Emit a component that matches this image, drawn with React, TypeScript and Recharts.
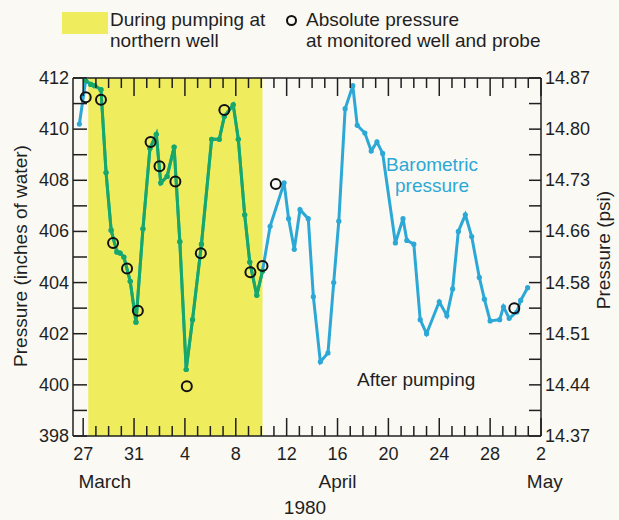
import React from 'react';
import {
  ComposedChart,
  Line,
  Scatter,
  XAxis,
  YAxis,
  ReferenceArea,
} from 'recharts';

// day 0 = 27 March 1980
const recordDays = [
  -0.3, 0.2, 0.6, 0.9, 1.4, 1.8, 2.2, 2.65, 2.9, 3.2, 3.7, 4.15, 4.7, 5.25, 5.75, 6.1, 6.6, 7.15,
  7.6, 8.1, 8.6, 9.3, 10.1, 10.7, 11.1, 11.8, 12.2, 12.7, 13.1, 13.65, 14.1, 14.7, 15.8, 16.15,
  16.6, 17.05, 17.7, 18.1, 18.65, 19.25, 19.7, 20.1, 20.6, 21.2, 21.55, 22.15, 22.65, 23.1, 23.55,
  24.55, 25.15, 25.45, 26.0, 26.5, 27.0, 28.0, 28.6, 29.05, 29.5, 30.05, 30.55, 31.15, 31.55, 32.0,
  32.75, 33.05, 33.5, 34.1, 34.4, 34.95,
];
const recordPressure = [
  410.2, 411.9, 411.75, 411.7, 411.55, 408.3, 406.05, 405.2, 405.15, 405.0, 404.05, 402.45, 406.1,
  409.25, 409.8, 407.9, 408.15, 409.3, 405.6, 400.6, 402.55, 405.5, 409.6, 409.6, 410.5, 410.95,
  409.6, 406.65, 404.8, 403.5, 404.45, 406.2, 407.9, 406.5, 405.3, 406.85, 406.5, 403.45, 400.9,
  401.25, 404.0, 406.4, 410.8, 411.7, 410.15, 409.85, 409.15, 409.5, 409.05, 405.55, 406.5, 405.65,
  405.5, 402.55, 402.0, 403.25, 402.7, 403.75, 406.0, 406.65, 405.8, 404.2, 403.35, 402.5, 402.55,
  403.05, 402.6, 402.85, 403.3, 403.8,
];

// absolute pressure at monitored well and probe
const probeDays = [0.2, 1.4, 2.35, 3.45, 4.3, 5.3, 6.0, 7.25, 8.15, 9.25, 11.1, 13.15, 14.1, 15.15, 33.9];
const probePressure = [
  411.25, 411.15, 405.55, 404.55, 402.9, 409.5, 408.55, 407.95, 399.95, 405.15, 410.75, 404.4,
  404.65, 407.85, 403.0,
];

// pumping at northern well (yellow band) and green part of the trace
const pumpingBand = [0.4, 14.1];
const greenSpan = [0.2, 14.1];

const xTicks = Array.from({ length: 37 }, (_, i) => i);
const xTickLabels = ['27', '31', '4', '8', '12', '16', '20', '24', '28', '2'];
const months = [
  { name: 'March', day: 1.7 },
  { name: 'April', day: 20 },
  { name: 'May', day: 36.3 },
];
const yTicks = Array.from({ length: 15 }, (_, i) => 398 + i);
const leftLabels = ['398', '400', '402', '404', '406', '408', '410', '412'];
const rightLabels = ['14.37', '14.44', '14.51', '14.58', '14.66', '14.73', '14.80', '14.87'];

const W = 619;
const H = 520;
const PLOT_LEFT = 73;
const PLOT_RIGHT = 541;
const PLOT_TOP = 78;
const PLOT_BOTTOM = 436;
const X_MIN = -0.8;
const X_MAX = 36;

const INK = '#1f1f1f';
const YELLOW = '#efed5e';
const GREEN = '#17a866';
const BLUE = '#2ca8d7';
const PAPER = '#fbf9f4';
const FONT = '"Liberation Sans", Arial, sans-serif';
const TICK_SIZE = 18;

const tableRows = recordDays.map((day, i) => ({
  day,
  pressure: recordPressure[i],
  pumping: day >= greenSpan[0] && day <= greenSpan[1] ? recordPressure[i] : null,
}));
const probeRows = probeDays.map((day, i) => ({ day, pressure: probePressure[i] }));

const BottomTick = (props: any) => {
  const { x, payload } = props;
  const d = payload.value as number;
  const major = d % 4 === 0;
  return (
    <g>
      <line x1={x} x2={x} y1={PLOT_BOTTOM} y2={PLOT_BOTTOM - (major ? 18 : 10)} stroke={INK} strokeWidth={1.5} />
      {major && (
        <text x={x} y={PLOT_BOTTOM + 24} textAnchor="middle" fill={INK} fontSize={TICK_SIZE} fontFamily={FONT}>
          {xTickLabels[d / 4]}
        </text>
      )}
    </g>
  );
};

const TopTick = (props: any) => {
  const { x, payload } = props;
  const major = (payload.value as number) % 4 === 0;
  return <line x1={x} x2={x} y1={PLOT_TOP} y2={PLOT_TOP + (major ? 18 : 10)} stroke={INK} strokeWidth={1.5} />;
};

const LeftTick = (props: any) => {
  const { y, payload } = props;
  const v = payload.value as number;
  return (
    <g>
      <line x1={PLOT_LEFT} x2={PLOT_LEFT + 14} y1={y} y2={y} stroke={INK} strokeWidth={1.5} />
      {v % 2 === 0 && (
        <text x={PLOT_LEFT - 4} y={y + 6} textAnchor="end" fill={INK} fontSize={TICK_SIZE} fontFamily={FONT}>
          {leftLabels[(v - 398) / 2]}
        </text>
      )}
    </g>
  );
};

const RightTick = (props: any) => {
  const { y, payload } = props;
  const v = payload.value as number;
  return (
    <g>
      <line x1={PLOT_RIGHT - 12} x2={PLOT_RIGHT} y1={y} y2={y} stroke={INK} strokeWidth={1.5} />
      {v % 2 === 0 && (
        <text x={PLOT_RIGHT + 4} y={y + 6} textAnchor="start" fill={INK} fontSize={TICK_SIZE} fontFamily={FONT}>
          {rightLabels[(v - 398) / 2]}
        </text>
      )}
    </g>
  );
};

const ProbeMark = (props: any) => {
  const { cx, cy } = props;
  return <circle cx={cx} cy={cy} r={5} fill="none" stroke="#111" strokeWidth={2} />;
};

const dayToX = (d: number) => PLOT_LEFT + ((d - X_MIN) / (X_MAX - X_MIN)) * (PLOT_RIGHT - PLOT_LEFT);

const txt: React.CSSProperties = {
  position: 'absolute',
  fontFamily: FONT,
  fontSize: 19,
  color: INK,
  lineHeight: '21px',
  whiteSpace: 'nowrap',
};

export default function App() {
  return (
    <div style={{ position: 'absolute', left: 0, top: 0, width: W, height: H, background: PAPER }}>
      <ComposedChart
        width={W}
        height={H}
        data={tableRows}
        margin={{ top: PLOT_TOP - 20, right: W - PLOT_RIGHT - 60, bottom: H - PLOT_BOTTOM - 30, left: PLOT_LEFT - 50 }}
      >
        <ReferenceArea
          x1={pumpingBand[0]}
          x2={pumpingBand[1]}
          y1={398}
          y2={412}
          fill={YELLOW}
          fillOpacity={1}
          stroke="none"
        />
        <XAxis
          dataKey="day"
          type="number"
          domain={[X_MIN, X_MAX]}
          allowDataOverflow
          ticks={xTicks}
          interval={0}
          height={30}
          tickLine={false}
          tick={<BottomTick />}
          axisLine={{ stroke: INK, strokeWidth: 1.5 }}
        />
        <XAxis
          xAxisId="top"
          orientation="top"
          dataKey="day"
          type="number"
          domain={[X_MIN, X_MAX]}
          allowDataOverflow
          ticks={xTicks}
          interval={0}
          height={20}
          tickLine={false}
          tick={<TopTick />}
          axisLine={{ stroke: INK, strokeWidth: 1.5 }}
        />
        <YAxis
          type="number"
          domain={[398, 412]}
          allowDataOverflow
          ticks={yTicks}
          interval={0}
          width={50}
          tickLine={false}
          tick={<LeftTick />}
          axisLine={{ stroke: INK, strokeWidth: 1.5 }}
        />
        <YAxis
          yAxisId="right"
          orientation="right"
          type="number"
          domain={[398, 412]}
          allowDataOverflow
          ticks={yTicks}
          interval={0}
          width={60}
          tickLine={false}
          tick={<RightTick />}
          axisLine={{ stroke: INK, strokeWidth: 1.5 }}
        />
        <Line
          dataKey="pressure"
          stroke={BLUE}
          strokeWidth={3}
          dot={{ r: 2.6, fill: BLUE, stroke: BLUE, strokeWidth: 0 }}
          isAnimationActive={false}
          type="linear"
        />
        <Line
          dataKey="pumping"
          stroke={GREEN}
          strokeWidth={3}
          dot={{ r: 2.6, fill: GREEN, stroke: GREEN, strokeWidth: 0 }}
          isAnimationActive={false}
          type="linear"
        />
        <Scatter data={probeRows} dataKey="pressure" shape={<ProbeMark />} isAnimationActive={false} />
      </ComposedChart>

      {/* legend */}
      <div style={{ position: 'absolute', left: 62, top: 12, width: 46, height: 22, background: YELLOW }} />
      <div style={{ ...txt, left: 110, top: 9 }}>During pumping at</div>
      <div style={{ ...txt, left: 110, top: 30 }}>northern well</div>
      <div
        style={{
          position: 'absolute',
          left: 286,
          top: 15,
          width: 7,
          height: 7,
          border: '2px solid #111',
          borderRadius: '50%',
        }}
      />
      <div style={{ ...txt, left: 306, top: 9 }}>Absolute pressure</div>
      <div style={{ ...txt, left: 306, top: 30 }}>at monitored well and probe</div>

      {/* annotations */}
      <div style={{ ...txt, left: 432, top: 154, color: BLUE, transform: 'translateX(-50%)', textAlign: 'center' }}>
        Barometric
        <br />
        pressure
      </div>
      <div style={{ ...txt, left: 357, top: 369 }}>After pumping</div>

      {/* months and year */}
      {months.map((m) => (
        <div key={m.name} style={{ ...txt, left: dayToX(m.day), top: 471, transform: 'translateX(-50%)' }}>
          {m.name}
        </div>
      ))}
      <div style={{ ...txt, left: 305, top: 497, transform: 'translateX(-50%)' }}>1980</div>

      {/* axis titles */}
      <div style={{ ...txt, left: 20, top: 256, transform: 'translate(-50%, -50%) rotate(-90deg)' }}>
        Pressure (inches of water)
      </div>
      <div style={{ ...txt, left: 603, top: 250, transform: 'translate(-50%, -50%) rotate(-90deg)' }}>
        Pressure (psi)
      </div>
    </div>
  );
}
